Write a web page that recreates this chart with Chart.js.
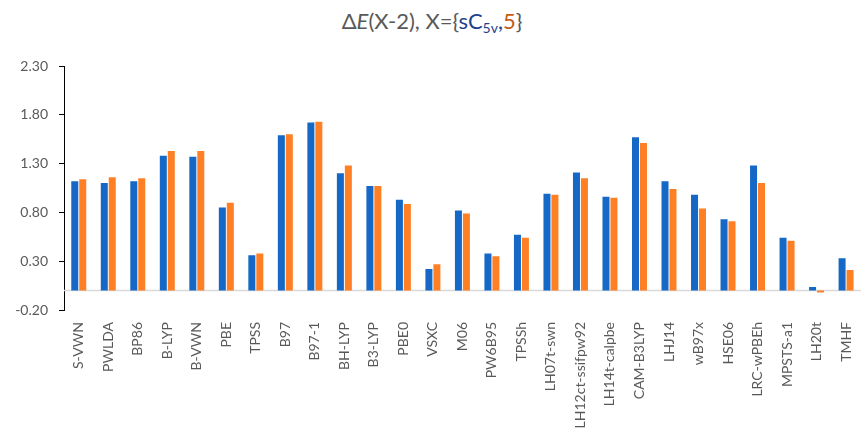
<!DOCTYPE html>
<html>
<head>
<meta charset="utf-8">
<script src="https://cdn.jsdelivr.net/npm/chart.js@4/dist/chart.umd.min.js"></script>
<style>
  html, body { margin: 0; padding: 0; background: #fff; overflow: hidden; }
  #wrap { position: relative; width: 875px; height: 444px; }
  #title {
    position: absolute; top: 8px; left: 432px; transform: translateX(-50%);
    font-family: Lato, "Liberation Sans", sans-serif; font-size: 22px; line-height: 26px;
    color: #595959; white-space: nowrap;
  }
  #title .b { color: #1f3f8f; }
  #title .o { color: #c55a11; }
  #title sub { font-size: 14px; vertical-align: -4px; line-height: 0; }
  canvas { position: absolute; left: 0; top: 0; }
</style>
</head>
<body>
<div id="wrap">
  <div id="title">&Delta;<i>E</i>(X-2), X={<span class="b">sC<sub>5v</sub>,</span><span class="o">5</span>}</div>
  <canvas id="c" width="875" height="444"></canvas>
</div>
<script>
// Functionals along the category axis
const methods = ['S-VWN', 'PWLDA', 'BP86', 'B-LYP', 'B-VWN', 'PBE', 'TPSS', 'B97', 'B97-1', 'BH-LYP',
  'B3-LYP', 'PBE0', 'VSXC', 'M06', 'PW6B95', 'TPSSh', 'LH07t-swn', 'LH12ct-ssifpw92', 'LH14t-calpbe',
  'CAM-B3LYP', 'LHJ14', 'wB97x', 'HSE06', 'LRC-wPBEh', 'MPSTS-a1', 'LH20t', 'TMHF'];

// ΔE(X-2) for X = sC5v
const sC5v = [1.12, 1.10, 1.12, 1.38, 1.37, 0.85, 0.36, 1.59, 1.72, 1.20,
  1.07, 0.93, 0.22, 0.82, 0.38, 0.57, 0.99, 1.21, 0.96,
  1.57, 1.12, 0.98, 0.73, 1.28, 0.54, 0.035, 0.33];

// ΔE(X-2) for X = 5
const five = [1.14, 1.16, 1.15, 1.43, 1.43, 0.90, 0.38, 1.60, 1.73, 1.28,
  1.07, 0.885, 0.27, 0.79, 0.35, 0.54, 0.98, 1.15, 0.95,
  1.51, 1.04, 0.84, 0.71, 1.10, 0.51, -0.02, 0.21];

// Value axis range and step
const yMin = -0.2, yMax = 2.3, yStep = 0.5;

const font = { family: 'Lato, "Liberation Sans", sans-serif', size: 14 };

// Horizontal line at zero across the plot
const zeroLine = {
  id: 'zeroLine',
  beforeDatasetsDraw(chart) {
    const { ctx, chartArea, scales } = chart;
    const y = Math.round(scales.y.getPixelForValue(0)) + 0.5;
    ctx.save();
    ctx.strokeStyle = '#d9d9d9';
    ctx.lineWidth = 1.5;
    ctx.beginPath();
    ctx.moveTo(chartArea.left, y);
    ctx.lineTo(chartArea.right, y);
    ctx.stroke();
    ctx.restore();
  }
};

new Chart(document.getElementById('c'), {
  type: 'bar',
  data: {
    labels: methods,
    datasets: [
      { label: 'sC5v', data: sC5v, backgroundColor: '#1568c6',
        categoryPercentage: 0.54, barPercentage: 0.88 },
      { label: '5', data: five, backgroundColor: '#ff7f24',
        categoryPercentage: 0.54, barPercentage: 0.88 }
    ]
  },
  options: {
    responsive: false,
    animation: false,
    events: [],
    layout: { padding: { top: 66, right: 7, left: 0, bottom: 0 } },
    plugins: { legend: { display: false }, title: { display: false }, tooltip: { enabled: false } },
    scales: {
      x: {
        grid: { display: false, drawTicks: false },
        border: { display: false },
        ticks: { color: '#595959', font, minRotation: 90, maxRotation: 90, padding: 12, autoSkip: false },
        afterFit(scale) { scale.height = 134; }
      },
      y: {
        min: yMin, max: yMax,
        grid: { drawOnChartArea: false, drawTicks: true, tickLength: 5, color: '#000' },
        border: { display: true, color: '#000', width: 1 },
        ticks: { stepSize: yStep, color: '#595959', font, padding: 11,
          callback: v => Number(v).toFixed(2) },
        afterFit(scale) { scale.width = 64; }
      }
    }
  },
  plugins: [zeroLine]
});
</script>
</body>
</html>
